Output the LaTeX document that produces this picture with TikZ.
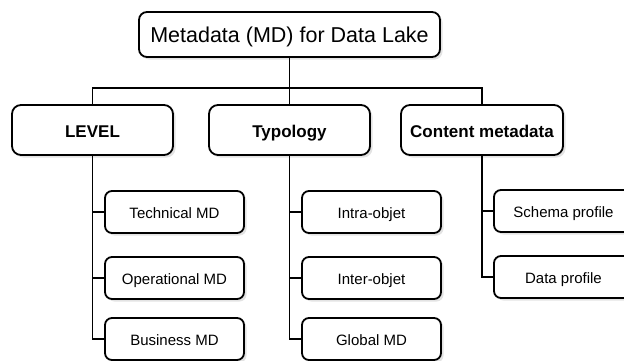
\documentclass[tikz,border=0pt]{standalone}
\usepackage{fontspec}
\setmainfont{Liberation Sans}
\usetikzlibrary{shadows}

\begin{document}
\begin{tikzpicture}[x=1pt,y=-1pt,line width=1.8pt]

      \clip (0,0) rectangle (624,360);

      \begin{scope}[every node/.style={draw, rounded corners=8pt, fill=white, inner sep=0pt,
          text height=19pt, text depth=3.6pt,
          drop shadow={shadow xshift=2.5pt, shadow yshift=-2.5pt, fill=black!22}}]
        \node (root) at (289.5,34.5) [minimum width=301pt, minimum height=45pt, font=\fontsize{21.5}{25}\selectfont] {Metadata (MD) for Data Lake};
      \end{scope}

      \begin{scope}[every node/.style={draw, rounded corners=9pt, fill=white, inner sep=0pt,
          text height=17pt, text depth=3pt,
          minimum width=161pt, minimum height=50pt, font=\fontsize{17}{20}\selectfont\bfseries,
          drop shadow={shadow xshift=2.5pt, shadow yshift=-2.5pt, fill=black!22}}]
        \node (level)   at (92.5,130)  {LEVEL};
        \node (typo)    at (289.5,130) {Typology};
        \node (content) at (482,130)   [minimum width=162pt] {Content metadata};
      \end{scope}

      \begin{scope}[every node/.style={draw, rounded corners=7pt, fill=white, inner sep=0pt,
          text height=15pt, text depth=2.7pt,
          minimum width=139pt, minimum height=42pt, font=\fontsize{15}{18}\selectfont,
          drop shadow={shadow xshift=2.5pt, shadow yshift=-2.5pt, fill=black!22}}]
        \node (tech)   at (174.5,212) {Technical MD};
        \node (oper)   at (174.5,278) {Operational MD};
        \node (busi)   at (174.5,339) {Business MD};
        \node (intra)  at (371.5,212) {Intra-objet};
        \node (inter)  at (371.5,278) {Inter-objet};
        \node (global) at (371.5,339) {Global MD};
        \node (schema) at (563.5,211) {Schema profile};
        \node (dprof)  at (563.5,277) {Data profile};
      \end{scope}

      % root to the three groups
      \draw (root.south) -- ++(0,30) -| (level.north);
      \draw (root.south) -- (typo.north);
      \draw (root.south) -- ++(0,30) -| (content.north);

      % groups to their items
      \draw (level.south) |- (tech.west);
      \draw (level.south) |- (oper.west);
      \draw (level.south) |- (busi.west);
      \draw (typo.south) |- (intra.west);
      \draw (typo.south) |- (inter.west);
      \draw (typo.south) |- (global.west);
      \draw (content.south) |- (schema.west);
      \draw (content.south) |- (dprof.west);

\end{tikzpicture}
\end{document}
